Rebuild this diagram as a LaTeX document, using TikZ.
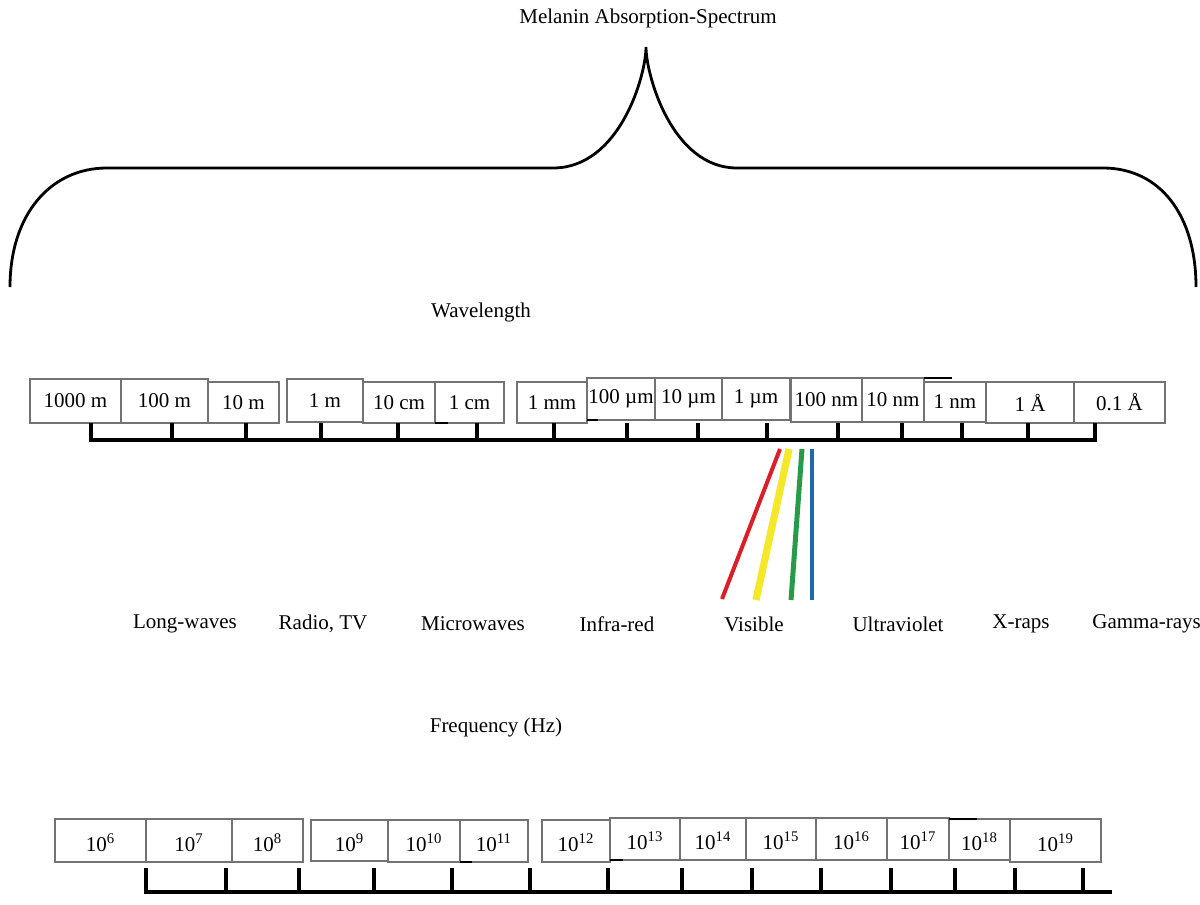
\documentclass[tikz,border=0pt]{standalone}
\usepackage{fontspec}
\setmainfont{Liberation Serif}
\usetikzlibrary{fit}
\definecolor{boxgray}{RGB}{115,115,115}
\definecolor{vred}{RGB}{220,30,40}
\definecolor{vyellow}{RGB}{245,232,40}
\definecolor{vgreen}{RGB}{40,155,75}
\definecolor{vblue}{RGB}{30,105,175}
\tikzset{
  box/.style={draw=boxgray, line width=1pt, inner sep=0pt, fill=white},
  lbl/.style={inner sep=0pt, font=\fontsize{10.5}{12}\selectfont},
  scaleline/.style={line width=1.7pt, black},
  bracel/.style={line width=1.4pt, black},
  ray/.style={line cap=butt}
}
\newcommand{\sx}[1]{\textsuperscript{#1}}
\begin{document}
\begin{tikzpicture}[x=0.5pt,y=-0.5pt]
\useasboundingbox (0,0) rectangle (1200,905);
% title and brace
\node[lbl] (title) at (648,18) {Melanin Absorption-Spectrum};
\coordinate (bl) at (10,287);
\coordinate (br) at (1196,287);
\coordinate (cusp) at (646,47);
\draw[bracel] (bl) .. controls (10,215) and (50,168) .. (107,168) -- (553,168)
  .. controls (620,168) and (646,75) .. (cusp)
  .. controls (646,75) and (672,168) .. (737,168) -- (1103,168)
  .. controls (1160,168) and (1196,215) .. (br);
% wavelength
\node[lbl] (wl) at (481,312) {Wavelength};
\foreach \n/\a/\b/\c/\d/\t in {
  w1/30/379/121/423/{1000 m},
  w2/121/379/208/423/{100 m},
  w3/208/382/279/423/{10 m},
  w4/287/379/363/422/{1 m},
  w5/363/382/435/423/{10 cm},
  w6/435/382/504/423/{1 cm},
  w7/517/382/587/423/{1 mm},
  w8/587/378/655/420/{100 µm},
  w9/655/378/722/420/{10 µm},
  w10/722/378/790/420/{1 µm},
  w11/791/378/862/422/{100 nm},
  w12/862/378/924/422/{10 nm},
  w13/924/382/986/422/{1 nm},
  w14/986/382/1074/423/{1 Å},
  w15/1074/382/1165/423/{0.1 Å}}
  {\node[box, fit={(\a,\b) (\c,\d)}] (\n) {};
   \node[lbl] at (\n) {\t};}
\draw[line width=1.2pt] (924,378) -- (952,378);
\draw[line width=1pt] (435,423) -- (448,423);
\draw[line width=1pt] (587,420) -- (598,420);
\coordinate (wa) at (91,423);
\coordinate (wb) at (1095,423);
\draw[scaleline] (wa) -- (91,440) -- (1095,440) -- (wb);
\foreach \x in {172,246,321,398,477,554,627,698,767,838,902,962,1028}
  \draw[scaleline] (\x,423) -- (\x,440);
% visible rays
\coordinate (r1) at (780,449); \coordinate (r2) at (722,599);
\coordinate (y1) at (789,449); \coordinate (y2) at (756,600);
\coordinate (g1) at (802,449); \coordinate (g2) at (791,600);
\coordinate (b1) at (812,449); \coordinate (b2) at (812,600);
\draw[ray, vred, line width=2pt] (r1) -- (r2);
\draw[ray, vyellow, line width=3.6pt] (y1) -- (y2);
\draw[ray, vgreen, line width=2.5pt] (g1) -- (g2);
\draw[ray, vblue, line width=2pt] (b1) -- (b2);
% band labels
\node[lbl] (lw) at (185,624) {Long-waves};
\node[lbl] (rt) at (323,624) {Radio, TV};
\node[lbl] (mw) at (473,624) {Microwaves};
\node[lbl] (ir) at (617,624) {Infra-red};
\node[lbl] (vi) at (754,624) {Visible};
\node[lbl] (uv) at (898,624) {Ultraviolet};
\node[lbl] (xr) at (1021,624) {X-raps};
\node[lbl, anchor=west] (gr) at (1092,624) {Gamma-rays};
% frequency
\node[lbl] (fq) at (496,727) {Frequency (Hz)};
\foreach \n/\a/\b/\c/\d/\t in {
  f1/55/819/146/862/6,
  f2/146/819/232/862/7,
  f3/232/819/303/862/8,
  f4/311/820/388/861/9,
  f5/388/820/460/862/10,
  f6/460/820/528/862/11,
  f7/542/820/610/862/12,
  f8/610/818/680/860/13,
  f9/680/818/746/860/14,
  f10/746/818/816/860/15,
  f11/816/818/887/860/16,
  f12/887/818/949/860/17,
  f13/949/819/1010/860/18,
  f14/1010/819/1101/862/19}
  {\node[box, fit={(\a,\b) (\c,\d)}] (\n) {};
   \node[lbl] at ([yshift=-1pt]\n.center) {10\sx{\t}};}
\draw[line width=1.2pt] (949,819) -- (977,819);
\draw[line width=1pt] (460,862) -- (472,862);
\draw[line width=1pt] (610,860) -- (623,860);
\coordinate (fa) at (146,868);
\coordinate (fb) at (1112,892);
\draw[scaleline] (fa) -- (146,892) -- (fb);
\foreach \x in {226,299,374,452,530,608,682,752,821,891,955,1015,1083}
  \draw[scaleline] (\x,868) -- (\x,892);
\end{tikzpicture}
\end{document}
